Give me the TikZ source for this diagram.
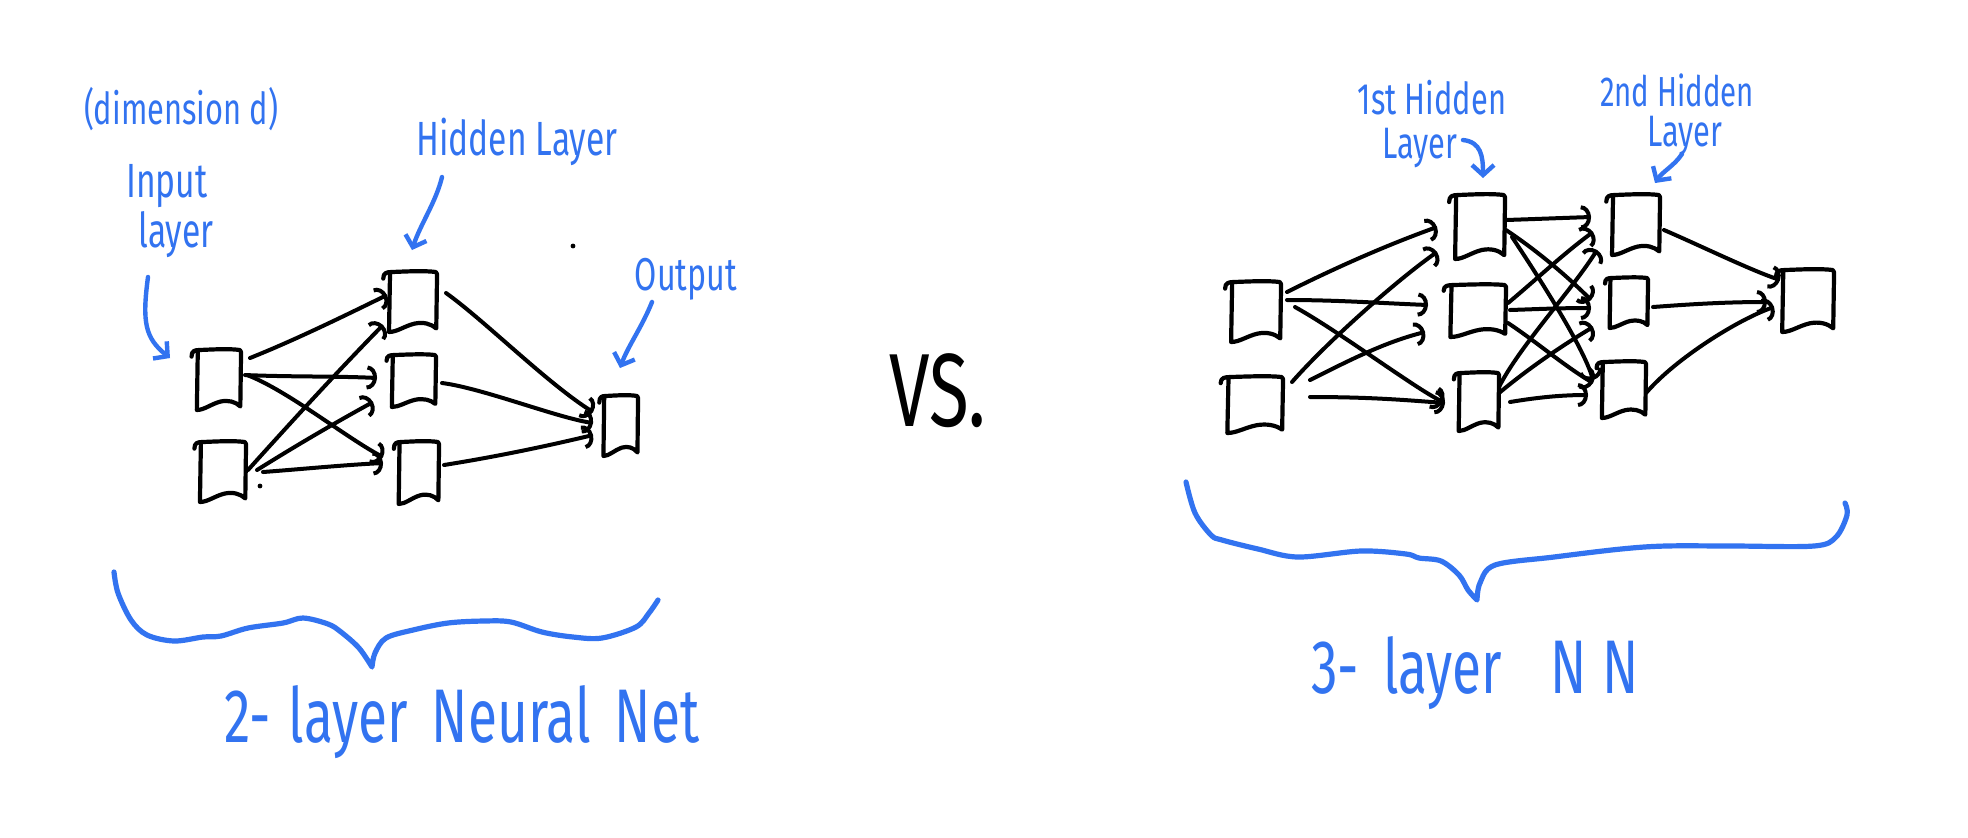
\documentclass[tikz,border=0pt]{standalone}
\usepackage{fontspec}
\newfontfamily\hand[FakeStretch=0.7]{Fira Sans}
\usetikzlibrary{arrows.meta,calc}
\definecolor{pen}{RGB}{50,115,240}
\begin{document}
\begin{tikzpicture}[x=0.5pt,y=-0.5pt,
  nrn/.style 2 args={inner sep=0pt, minimum width=#1pt, minimum height=#2pt},
  nline/.style={line width=2.1pt, line cap=round, line join=round},
  conn/.style={line width=2pt, line cap=round, -{Arc Barb[length=5pt,width=12pt]}},
  ann/.style={pen, line width=2.2pt, line cap=round, -{Straight Barb[length=5pt,width=11pt]}},
  lab/.style={pen, inner sep=0pt, anchor=base},
  brace/.style={pen, line width=2.6pt, line cap=round, line join=round}]
\fill[white] (0,0) rectangle (1968,837);
\useasboundingbox (0,0) rectangle (1968,837);

% ---------- left network nodes
\node[nrn={23}{30}] (i1) at (218,380) {};
\node[nrn={24}{30}] (i2) at (222,472) {};
\node[nrn={25}{30}] (h1) at (412,302) {};
\node[nrn={23}{26}] (h2) at (413,381) {};
\node[nrn={21}{31}] (h3) at (418,473) {};
\node[nrn={18}{30}] (o)  at (620,426) {};
% ---------- right network nodes
\node[nrn={26}{30}] (r1) at (1255,312) {};
\node[nrn={29}{28}] (r2) at (1254,405) {};
\node[nrn={26}{32}] (pa) at (1479,227) {};
\node[nrn={29}{26}] (pb) at (1477,311) {};
\node[nrn={21}{29}] (pc) at (1478,402) {};
\node[nrn={25}{30}] (qa) at (1635,225) {};
\node[nrn={20}{25}] (qb) at (1628,303) {};
\node[nrn={23}{28}] (qc) at (1623,390) {};
\node[nrn={27}{31}] (ro) at (1807,301) {};

% hand-drawn neuron outlines
\foreach \n/\w/\h in {i1/23/30, i2/24/30, h1/25/30, h2/23/26, h3/21/31, o/18/30,
  r1/26/30, r2/29/28, pa/26/32, pb/29/26, pc/21/29, qa/25/30, qb/20/25, qc/23/28, ro/27/31}
  \draw[nline, shift={(\n.center)}, xscale=\w, yscale=\h]
    (-1.15,-0.78) .. controls (-1.15,-0.98) and (-1.0,-1.0) .. (-0.8,-1.0)
    .. controls (-0.2,-1.02) and (0.5,-1.05) .. (0.95,-1.0)
    .. controls (1.02,-0.98) and (1.0,-0.9) .. (1.0,-0.8)
    -- (0.97,0.88)
    .. controls (0.75,0.72) and (0.45,0.66) .. (0.1,0.72)
    .. controls (-0.3,0.8) and (-0.6,1.0) .. (-0.92,1.0)
    -- (-0.88,-0.92);

% ---------- left connectors
\draw[conn] ($(i1)+(32,-22)$) .. controls +(45,-18) and +(-45,22) .. ($(h1)+(-25,-7)$);
\draw[conn] ($(i1)+(27,-5)$) .. controls +(45,2) and +(-40,-2) .. ($(h2)+(-36,-3)$);
\draw[conn] ($(i1)+(29,-5)$) .. controls +(40,15) and +(-35,-18) .. ($(h3)+(-35,-16)$);
\draw[conn] ($(i2)+(26,-2)$) .. controls +(45,-50) and +(-45,46) .. ($(h1)+(-29,23)$);
\draw[conn] ($(i2)+(35,-2)$) .. controls +(40,-25) and +(-40,22) .. ($(h2)+(-40,21)$);
\draw[conn] ($(i2)+(41,0)$) .. controls +(40,-3) and +(-40,2) .. ($(h3)+(-35,-10)$);
\draw[conn] ($(h1)+(34,-9)$) .. controls +(38,27) and +(-45,-28) .. ($(o)+(-27,-14)$);
\draw[conn] ($(h2)+(29,2)$) .. controls +(40,5) and +(-35,-5) .. ($(o)+(-27,-3)$);
\draw[conn] ($(h3)+(26,-8)$) .. controls +(50,-8) and +(-50,12) .. ($(o)+(-27,9)$);

% ---------- right connectors
\draw[conn] ($(r1)+(32,-20)$) .. controls +(50,-25) and +(-50,18) .. ($(pa)+(-42,0)$);
\draw[conn] ($(r1)+(32,-12)$) .. controls +(50,0) and +(-50,-2) .. ($(pb)+(-49,-6)$);
\draw[conn] ($(r1)+(40,-5)$) .. controls +(45,25) and +(-30,-15) .. ($(pc)+(-35,0)$);
\draw[conn] ($(r2)+(38,-23)$) .. controls +(35,-40) and +(-40,28) .. ($(pa)+(-42,25)$);
\draw[conn] ($(r2)+(56,-25)$) .. controls +(40,-20) and +(-40,10) .. ($(pb)+(-52,21)$);
\draw[conn] ($(r2)+(56,-8)$) .. controls +(60,0) and +(-40,-3) .. ($(pc)+(-33,1)$);

\draw[conn] ($(pa)+(27,-7)$) .. controls +(30,-1) and +(-30,1) .. ($(qa)+(-44,-8)$);
\draw[conn] ($(pa)+(27,3)$) .. controls +(30,20) and +(-25,-25) .. ($(qb)+(-37,-3)$);
\draw[conn] ($(pa)+(33,10)$) .. controls +(20,30) and +(-10,-35) .. ($(qc)+(-30,-10)$);
\draw[conn] ($(pb)+(31,-8)$) .. controls +(30,-25) and +(-30,22) .. ($(qa)+(-42,7)$);
\draw[conn] ($(pb)+(33,-1)$) .. controls +(30,-1) and +(-30,0) .. ($(qb)+(-37,5)$);
\draw[conn] ($(pb)+(31,12)$) .. controls +(30,20) and +(-30,-18) .. ($(qc)+(-30,-7)$);
\draw[conn] ($(pc)+(21,-15)$) .. controls +(20,-40) and +(-25,40) .. ($(qa)+(-38,25)$);
\draw[conn] ($(pc)+(21,-9)$) .. controls +(30,-25) and +(-30,18) .. ($(qb)+(-35,24)$);
\draw[conn] ($(pc)+(32,0)$) .. controls +(30,-5) and +(-25,0) .. ($(qc)+(-35,5)$);

\draw[conn] ($(qa)+(29,5)$) .. controls +(35,15) and +(-30,-10) .. ($(ro)+(-27,-21)$);
\draw[conn] ($(qb)+(25,4)$) .. controls +(40,-3) and +(-40,0) .. ($(ro)+(-40,1)$);
\draw[conn] ($(qc)+(23,3)$) .. controls +(30,-35) and +(-35,12) .. ($(ro)+(-33,6)$);

% stray dots
\fill (573,246) circle[radius=1.2pt];
\fill (260,486) circle[radius=1.2pt];

% ---------- labels
\node[lab, font=\hand\fontsize{22}{24}\selectfont] (dim) at (181,124) {(dimension d)};
\node[lab, font=\hand\fontsize{24}{26}\selectfont] (lin1) at (167,197) {Input};
\node[lab, font=\hand\fontsize{24}{26}\selectfont] (lin2) at (176,247) {layer};
\node[lab, font=\hand\fontsize{24}{26}\selectfont] (hl) at (517,155) {Hidden Layer};
\node[lab, font=\hand\fontsize{23}{25}\selectfont] (ol) at (686,290) {Output};
\node[lab, font=\hand\fontsize{22}{24}\selectfont] (l1a) at (1432,114) {1st Hidden};
\node[lab, font=\hand\fontsize{22}{24}\selectfont] (l1b) at (1420,158) {Layer};
\node[lab, font=\hand\fontsize{21}{23}\selectfont] (l2a) at (1677,106) {2nd Hidden};
\node[lab, font=\hand\fontsize{22}{24}\selectfont] (l2b) at (1685,146) {Layer};
\node[lab, font=\hand\fontsize{38}{40}\selectfont] (t2) at (462,742) {2-\hspace{9pt}layer\hspace{12pt}Neural\hspace{12pt}Net};
\node[lab, font=\hand\fontsize{38}{40}\selectfont] (t3) at (1475,693) {3-\hspace{12pt}layer\hspace{24pt}N\hspace{8pt}N};
\node[anchor=base, inner sep=0pt, font=\hand\fontsize{52}{52}\selectfont] (vs) at (938,426) {VS.};

% ---------- annotation arrows
\draw[ann] ($(lin2.base)+(-28,30)$) .. controls +(-6,45) and +(-25,-20) .. ($(i1)+(-48,-22)$);
\draw[ann] ($(hl.base)+(-75,22)$) .. controls +(-6,25) and +(8,-25) .. ($(h1)+(0,-52)$);
\draw[ann] ($(ol.base)+(-34,12)$) .. controls +(-10,25) and +(8,-22) .. ($(o)+(0,-58)$);
\draw[ann] ($(l1b.base)+(43,-18)$) .. controls +(18,2) and +(0,-22) .. ($(pa)+(4,-49)$);
\draw[ann] ($(l2b.base)+(-3,8)$) .. controls +(-8,12) and +(8,-12) .. ($(qa)+(20,-42)$);

% ---------- braces
\draw[brace] plot[smooth, tension=0.55] coordinates {(114,572) (118,593) (131,620) (147,635) (174,641) (203,637) (221,636) (248,628) (283,623) (303,618) (328,624) (341,632) (359,648) (372,667)}
  -- plot[smooth, tension=0.55] coordinates {(372,667) (375,653) (386,638) (413,630) (448,623) (484,621) (511,622) (542,632) (573,637) (602,638) (636,627) (649,613) (658,600)};
\draw[brace] plot[smooth, tension=0.55] coordinates {(1186,482) (1195,513) (1211,535) (1222,540) (1258,549) (1298,557) (1361,551) (1406,554) (1419,558) (1441,561) (1459,575) (1468,590) (1477,600)}
  -- plot[smooth, tension=0.55] coordinates {(1477,600) (1480,583) (1495,565) (1554,557) (1621,549) (1666,546) (1733,546) (1814,546) (1836,537) (1847,515) (1845,503)};
\end{tikzpicture}
\end{document}
